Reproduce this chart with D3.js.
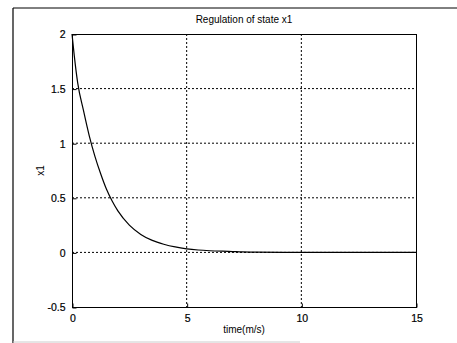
<!DOCTYPE html>
<html>
<head>
<meta charset="utf-8">
<script src="https://cdn.jsdelivr.net/npm/d3@7"></script>
<style>
    body { margin: 0; background: #fff; }
    svg text { font-family: Arial, "Liberation Sans", sans-serif; fill: #000; }
    .grid line { stroke: #000; stroke-width: 1; stroke-dasharray: 2,2; }
</style>
</head>
<body>
<svg class="chart" width="457" height="343"></svg>
<script>
var timeValues = [0, 0.1, 0.25, 0.5, 0.75, 1, 1.25, 1.5, 1.75, 2, 2.5, 3, 3.5, 4, 4.5, 5, 5.5, 6, 7, 7.4, 8, 10, 12, 15];
var x1Values = [2, 1.8, 1.55, 1.3, 1.07, 0.88, 0.72, 0.58, 0.47, 0.38, 0.25, 0.165, 0.11, 0.075, 0.05, 0.033, 0.022, 0.015, 0.008, 0.004, 0.002, 0, 0, 0];
var xTicks = [0, 5, 10, 15];
var yTicks = [-0.5, 0, 0.5, 1, 1.5, 2];
var yTickLabels = ["-0.5", "0", "0.5", "1", "1.5", "2"];

var svg = d3.select("svg.chart");
var plot = { left: 72, right: 416, top: 34, bottom: 307 };

var xScale = d3.scaleLinear().domain([0, 15]).range([plot.left, plot.right]);
var yScale = d3.scaleLinear().domain([-0.5, 2]).range([plot.bottom, plot.top]);

// outer figure frame (scan edges)
svg.append("line").attr("x1", 13).attr("y1", 8).attr("x2", 457).attr("y2", 8)
    .attr("stroke", "#000").attr("stroke-width", 1);
svg.append("line").attr("x1", 13).attr("y1", 8).attr("x2", 13).attr("y2", 343)
    .attr("stroke", "#000").attr("stroke-width", 1.2);
svg.append("line").attr("x1", 13).attr("y1", 342).attr("x2", 300).attr("y2", 342)
    .attr("stroke", "#ccc").attr("stroke-width", 1);

// grid
var grid = svg.append("g").classed("grid", true);
grid.selectAll("line.gx")
    .data(xTicks.slice(1, -1))
    .enter()
    .append("line")
    .classed("gx", true)
    .attr("x1", function (d) { return xScale(d); })
    .attr("x2", function (d) { return xScale(d); })
    .attr("y1", plot.top)
    .attr("y2", plot.bottom);
grid.selectAll("line.gy")
    .data(yTicks.slice(1, -1))
    .enter()
    .append("line")
    .classed("gy", true)
    .attr("x1", plot.left)
    .attr("x2", plot.right)
    .attr("y1", function (d) { return yScale(d); })
    .attr("y2", function (d) { return yScale(d); });

// axes box
svg.append("rect")
    .attr("x", plot.left + 0.5)
    .attr("y", plot.top + 0.5)
    .attr("width", plot.right - plot.left)
    .attr("height", plot.bottom - plot.top)
    .attr("fill", "none")
    .attr("stroke", "#000")
    .attr("stroke-width", 1);

var tickFont = function (g) {
    g.select(".domain").remove();
    g.selectAll("text")
        .attr("font-size", 10.5)
        .attr("font-family", "Arial, 'Liberation Sans', sans-serif")
        .attr("stroke", "#000")
        .attr("stroke-width", 0.2);
};

var xAxis = d3.axisBottom(xScale).tickValues(xTicks).tickSizeInner(-4).tickSizeOuter(0).tickPadding(7);
svg.append("g")
    .attr("transform", "translate(0.5," + (plot.bottom + 0.5) + ")")
    .call(xAxis)
    .call(tickFont);

var yAxis = d3.axisLeft(yScale).tickValues(yTicks)
    .tickFormat(function (d, i) { return yTickLabels[i]; })
    .tickSizeInner(-4).tickSizeOuter(0).tickPadding(7);
svg.append("g")
    .attr("transform", "translate(" + (plot.left + 0.5) + ",0.5)")
    .call(yAxis)
    .call(tickFont);

// curve
var line = d3.line()
    .x(function (d) { return xScale(d[0]); })
    .y(function (d) { return yScale(d[1]); })
    .curve(d3.curveMonotoneX);
svg.append("path")
    .datum(d3.zip(timeValues, x1Values))
    .attr("d", line)
    .attr("fill", "none")
    .attr("stroke", "#000")
    .attr("stroke-width", 1.2);

// labels
svg.append("text")
    .attr("x", (plot.left + plot.right) / 2)
    .attr("y", 23)
    .attr("text-anchor", "middle")
    .attr("font-size", 10)
    .text("Regulation of state x1");
svg.append("text")
    .attr("x", (plot.left + plot.right) / 2)
    .attr("y", 333)
    .attr("text-anchor", "middle")
    .attr("font-size", 10)
    .text("time(m/s)");
svg.append("text")
    .attr("transform", "translate(44," + ((plot.top + plot.bottom) / 2) + ") rotate(-90)")
    .attr("text-anchor", "middle")
    .attr("font-size", 10)
    .text("x1");
</script>
</body>
</html>
